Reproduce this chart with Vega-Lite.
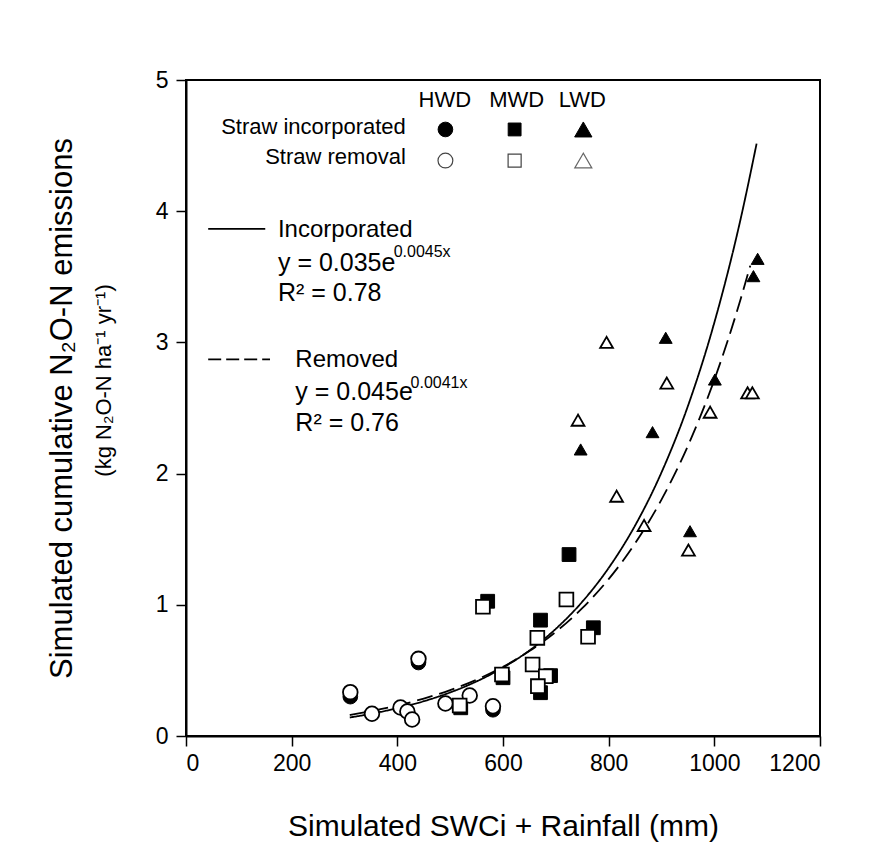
{
  "$schema": "https://vega.github.io/schema/vega-lite/v6.json",
  "width": 634,
  "height": 656,
  "autosize": {"type": "none"},
  "padding": {"left": 186, "top": 80, "right": 65, "bottom": 115},
  "background": "white",
  "data": {"values": [{}]},
  "config": {
    "font": "Liberation Sans",
    "view": {"stroke": "black", "strokeWidth": 2},
    "axis": {
      "grid": false,
      "domainColor": "black",
      "domainWidth": 2,
      "tickColor": "black",
      "tickWidth": 1.5,
      "tickSize": 10,
      "labelFont": "Liberation Sans",
      "labelFontSize": 23,
      "labelColor": "black",
      "titleFont": "Liberation Sans",
      "titleFontWeight": "normal",
      "titleColor": "black"
    }
  },
  "datasets": {
    "pts": [
      {"x": 311, "y": 0.30, "site": "HWD", "straw": "incorporated"},
      {"x": 440, "y": 0.56, "site": "HWD", "straw": "incorporated"},
      {"x": 581, "y": 0.20, "site": "HWD", "straw": "incorporated"},
      {"x": 311, "y": 0.334, "site": "HWD", "straw": "removal"},
      {"x": 352, "y": 0.17, "site": "HWD", "straw": "removal"},
      {"x": 406, "y": 0.217, "site": "HWD", "straw": "removal"},
      {"x": 419, "y": 0.187, "site": "HWD", "straw": "removal"},
      {"x": 428, "y": 0.126, "site": "HWD", "straw": "removal"},
      {"x": 440, "y": 0.588, "site": "HWD", "straw": "removal"},
      {"x": 491, "y": 0.248, "site": "HWD", "straw": "removal"},
      {"x": 537, "y": 0.309, "site": "HWD", "straw": "removal"},
      {"x": 581, "y": 0.227, "site": "HWD", "straw": "removal"},
      {"x": 571, "y": 1.027, "site": "MWD", "straw": "incorporated"},
      {"x": 520, "y": 0.215, "site": "MWD", "straw": "incorporated"},
      {"x": 600, "y": 0.444, "site": "MWD", "straw": "incorporated"},
      {"x": 671, "y": 0.883, "site": "MWD", "straw": "incorporated"},
      {"x": 690, "y": 0.46, "site": "MWD", "straw": "incorporated"},
      {"x": 671, "y": 0.33, "site": "MWD", "straw": "incorporated"},
      {"x": 725, "y": 1.383, "site": "MWD", "straw": "incorporated"},
      {"x": 771, "y": 0.825, "site": "MWD", "straw": "incorporated"},
      {"x": 562, "y": 0.985, "site": "MWD", "straw": "removal"},
      {"x": 518, "y": 0.232, "site": "MWD", "straw": "removal"},
      {"x": 598, "y": 0.469, "site": "MWD", "straw": "removal"},
      {"x": 665, "y": 0.748, "site": "MWD", "straw": "removal"},
      {"x": 656, "y": 0.545, "site": "MWD", "straw": "removal"},
      {"x": 681, "y": 0.456, "site": "MWD", "straw": "removal"},
      {"x": 666, "y": 0.38, "site": "MWD", "straw": "removal"},
      {"x": 720, "y": 1.04, "site": "MWD", "straw": "removal"},
      {"x": 761, "y": 0.756, "site": "MWD", "straw": "removal"},
      {"x": 1082, "y": 3.637, "site": "LWD", "straw": "incorporated"},
      {"x": 1074, "y": 3.505, "site": "LWD", "straw": "incorporated"},
      {"x": 908, "y": 3.035, "site": "LWD", "straw": "incorporated"},
      {"x": 1001, "y": 2.717, "site": "LWD", "straw": "incorporated"},
      {"x": 883, "y": 2.316, "site": "LWD", "straw": "incorporated"},
      {"x": 747, "y": 2.184, "site": "LWD", "straw": "incorporated"},
      {"x": 954, "y": 1.561, "site": "LWD", "straw": "incorporated"},
      {"x": 796, "y": 3.0, "site": "LWD", "straw": "removal"},
      {"x": 910, "y": 2.69, "site": "LWD", "straw": "removal"},
      {"x": 1063, "y": 2.616, "site": "LWD", "straw": "removal"},
      {"x": 1072, "y": 2.616, "site": "LWD", "straw": "removal"},
      {"x": 992, "y": 2.468, "site": "LWD", "straw": "removal"},
      {"x": 742, "y": 2.407, "site": "LWD", "straw": "removal"},
      {"x": 815, "y": 1.828, "site": "LWD", "straw": "removal"},
      {"x": 867, "y": 1.605, "site": "LWD", "straw": "removal"},
      {"x": 951, "y": 1.417, "site": "LWD", "straw": "removal"}
    ],
    "fits": [
      {"x": 310, "y": 0.141, "fit": "Incorporated"},
      {"x": 350, "y": 0.169, "fit": "Incorporated"},
      {"x": 400, "y": 0.212, "fit": "Incorporated"},
      {"x": 450, "y": 0.265, "fit": "Incorporated"},
      {"x": 500, "y": 0.332, "fit": "Incorporated"},
      {"x": 550, "y": 0.416, "fit": "Incorporated"},
      {"x": 600, "y": 0.521, "fit": "Incorporated"},
      {"x": 650, "y": 0.652, "fit": "Incorporated"},
      {"x": 700, "y": 0.817, "fit": "Incorporated"},
      {"x": 750, "y": 1.023, "fit": "Incorporated"},
      {"x": 800, "y": 1.281, "fit": "Incorporated"},
      {"x": 850, "y": 1.604, "fit": "Incorporated"},
      {"x": 900, "y": 2.009, "fit": "Incorporated"},
      {"x": 950, "y": 2.515, "fit": "Incorporated"},
      {"x": 1000, "y": 3.151, "fit": "Incorporated"},
      {"x": 1050, "y": 3.945, "fit": "Incorporated"},
      {"x": 1080, "y": 4.515, "fit": "Incorporated"},
      {"x": 310, "y": 0.160, "fit": "Removed"},
      {"x": 350, "y": 0.189, "fit": "Removed"},
      {"x": 400, "y": 0.232, "fit": "Removed"},
      {"x": 450, "y": 0.285, "fit": "Removed"},
      {"x": 500, "y": 0.350, "fit": "Removed"},
      {"x": 550, "y": 0.429, "fit": "Removed"},
      {"x": 600, "y": 0.527, "fit": "Removed"},
      {"x": 650, "y": 0.647, "fit": "Removed"},
      {"x": 700, "y": 0.794, "fit": "Removed"},
      {"x": 750, "y": 0.974, "fit": "Removed"},
      {"x": 800, "y": 1.196, "fit": "Removed"},
      {"x": 850, "y": 1.468, "fit": "Removed"},
      {"x": 900, "y": 1.802, "fit": "Removed"},
      {"x": 950, "y": 2.212, "fit": "Removed"},
      {"x": 1000, "y": 2.715, "fit": "Removed"},
      {"x": 1050, "y": 3.333, "fit": "Removed"},
      {"x": 1068, "y": 3.585, "fit": "Removed"}
    ]
  },
  "layer": [
    {
      "data": {"name": "fits"},
      "mark": {"type": "line", "color": "black", "strokeWidth": 1.8, "interpolate": "monotone"},
      "encoding": {
        "x": {
          "field": "x", "type": "quantitative",
          "scale": {"domain": [0, 1200], "nice": false},
          "axis": {
            "values": [0, 200, 400, 600, 800, 1000, 1200],
            "format": "d",
            "labelPadding": 6,
            "title": "Simulated SWCi + Rainfall (mm)",
            "titleFontSize": 30,
            "titlePadding": 36
          }
        },
        "y": {
          "field": "y", "type": "quantitative",
          "scale": {"domain": [0, 5], "nice": false},
          "axis": {
            "values": [0, 1, 2, 3, 4, 5],
            "format": "d",
            "labelPadding": 8,
            "title": "Simulated cumulative N₂O-N emissions",
            "titleFontSize": 31,
            "titlePadding": 77
          }
        },
        "detail": {"field": "fit", "type": "nominal"},
        "strokeDash": {
          "field": "fit", "type": "nominal",
          "scale": {"domain": ["Incorporated", "Removed"], "range": [[1, 0], [16, 7]]},
          "legend": null
        },
        "order": {"field": "x", "type": "quantitative"}
      }
    },
    {
      "data": {"name": "pts"},
      "transform": [{"filter": "datum.straw === 'incorporated'"}],
      "mark": {"type": "point", "filled": true, "color": "black", "stroke": "black", "strokeWidth": 1, "opacity": 1},
      "encoding": {
        "x": {"field": "x", "type": "quantitative"},
        "y": {"field": "y", "type": "quantitative"},
        "shape": {
          "field": "site", "type": "nominal",
          "scale": {"domain": ["HWD", "MWD", "LWD"], "range": ["circle", "square", "triangle-up"]},
          "legend": null
        },
        "size": {
          "field": "site", "type": "nominal",
          "scale": {"domain": ["HWD", "MWD", "LWD"], "range": [215, 165, 310]},
          "legend": null
        }
      }
    },
    {
      "data": {"name": "pts"},
      "transform": [{"filter": "datum.straw === 'removal'"}],
      "mark": {"type": "point", "filled": false, "fill": "white", "fillOpacity": 1, "stroke": "black", "strokeWidth": 1.8, "opacity": 1},
      "encoding": {
        "x": {"field": "x", "type": "quantitative"},
        "y": {"field": "y", "type": "quantitative"},
        "shape": {"field": "site", "type": "nominal", "legend": null},
        "size": {"field": "site", "type": "nominal", "legend": null}
      }
    },
    {
      "mark": {"type": "text", "text": "(kg N₂O-N ha⁻¹ yr⁻¹)", "fontSize": 22, "angle": 270, "align": "center", "baseline": "middle", "color": "black"},
      "encoding": {"x": {"datum": -155}, "y": {"datum": 2.71}}
    },
    {
      "mark": {"type": "text", "text": "HWD", "fontSize": 22, "align": "center", "baseline": "middle", "color": "black"},
      "encoding": {"x": {"datum": 490}, "y": {"datum": 4.846}}
    },
    {
      "mark": {"type": "text", "text": "MWD", "fontSize": 22, "align": "center", "baseline": "middle", "color": "black"},
      "encoding": {"x": {"datum": 626}, "y": {"datum": 4.846}}
    },
    {
      "mark": {"type": "text", "text": "LWD", "fontSize": 22, "align": "center", "baseline": "middle", "color": "black"},
      "encoding": {"x": {"datum": 750}, "y": {"datum": 4.846}}
    },
    {
      "mark": {"type": "text", "text": "Straw incorporated", "fontSize": 22, "align": "right", "baseline": "middle", "color": "black"},
      "encoding": {"x": {"datum": 416}, "y": {"datum": 4.643}}
    },
    {
      "mark": {"type": "text", "text": "Straw removal", "fontSize": 22, "align": "right", "baseline": "middle", "color": "black"},
      "encoding": {"x": {"datum": 416}, "y": {"datum": 4.415}}
    },
    {
      "mark": {"type": "point", "shape": "circle", "size": 215, "filled": true, "color": "black", "stroke": "black", "strokeWidth": 1, "opacity": 1},
      "encoding": {"x": {"datum": 491}, "y": {"datum": 4.623}}
    },
    {
      "mark": {"type": "point", "shape": "square", "size": 165, "filled": true, "color": "black", "stroke": "black", "strokeWidth": 1, "opacity": 1},
      "encoding": {"x": {"datum": 622}, "y": {"datum": 4.623}}
    },
    {
      "mark": {"type": "point", "shape": "triangle-up", "size": 300, "filled": true, "color": "black", "stroke": "black", "strokeWidth": 1, "opacity": 1},
      "encoding": {"x": {"datum": 752}, "y": {"datum": 4.623}}
    },
    {
      "mark": {"type": "point", "shape": "circle", "size": 220, "filled": false, "stroke": "#444444", "strokeWidth": 1.2, "opacity": 1},
      "encoding": {"x": {"datum": 491}, "y": {"datum": 4.386}}
    },
    {
      "mark": {"type": "point", "shape": "square", "size": 170, "filled": false, "stroke": "#444444", "strokeWidth": 1.2, "opacity": 1},
      "encoding": {"x": {"datum": 622}, "y": {"datum": 4.386}}
    },
    {
      "mark": {"type": "point", "shape": "triangle-up", "size": 290, "filled": false, "stroke": "#666666", "strokeWidth": 1.2, "opacity": 1},
      "encoding": {"x": {"datum": 752}, "y": {"datum": 4.386}}
    },
    {
      "mark": {"type": "rule", "color": "black", "strokeWidth": 1.8},
      "encoding": {"x": {"datum": 42}, "x2": {"datum": 150}, "y": {"datum": 3.866}}
    },
    {
      "mark": {"type": "rule", "color": "black", "strokeWidth": 1.8, "strokeDash": [13, 5]},
      "encoding": {"x": {"datum": 42}, "x2": {"datum": 159}, "y": {"datum": 2.87}}
    },
    {
      "mark": {"type": "text", "text": "Incorporated", "fontSize": 24, "align": "left", "baseline": "middle", "color": "black"},
      "encoding": {"x": {"datum": 174}, "y": {"datum": 3.86}}
    },
    {
      "mark": {"type": "text", "text": "y = 0.035e", "fontSize": 25, "align": "left", "baseline": "middle", "color": "black"},
      "encoding": {"x": {"datum": 174}, "y": {"datum": 3.607}}
    },
    {
      "mark": {"type": "text", "text": "0.0045x", "fontSize": 16, "align": "left", "baseline": "middle", "color": "black"},
      "encoding": {"x": {"datum": 393}, "y": {"datum": 3.69}}
    },
    {
      "mark": {"type": "text", "text": "R² = 0.78", "fontSize": 25, "align": "left", "baseline": "middle", "color": "black"},
      "encoding": {"x": {"datum": 174}, "y": {"datum": 3.378}}
    },
    {
      "mark": {"type": "text", "text": "Removed", "fontSize": 24, "align": "left", "baseline": "middle", "color": "black"},
      "encoding": {"x": {"datum": 207}, "y": {"datum": 2.864}}
    },
    {
      "mark": {"type": "text", "text": "y = 0.045e", "fontSize": 25, "align": "left", "baseline": "middle", "color": "black"},
      "encoding": {"x": {"datum": 207}, "y": {"datum": 2.62}}
    },
    {
      "mark": {"type": "text", "text": "0.0041x", "fontSize": 16, "align": "left", "baseline": "middle", "color": "black"},
      "encoding": {"x": {"datum": 425}, "y": {"datum": 2.694}}
    },
    {
      "mark": {"type": "text", "text": "R² = 0.76", "fontSize": 25, "align": "left", "baseline": "middle", "color": "black"},
      "encoding": {"x": {"datum": 207}, "y": {"datum": 2.382}}
    }
  ]
}
